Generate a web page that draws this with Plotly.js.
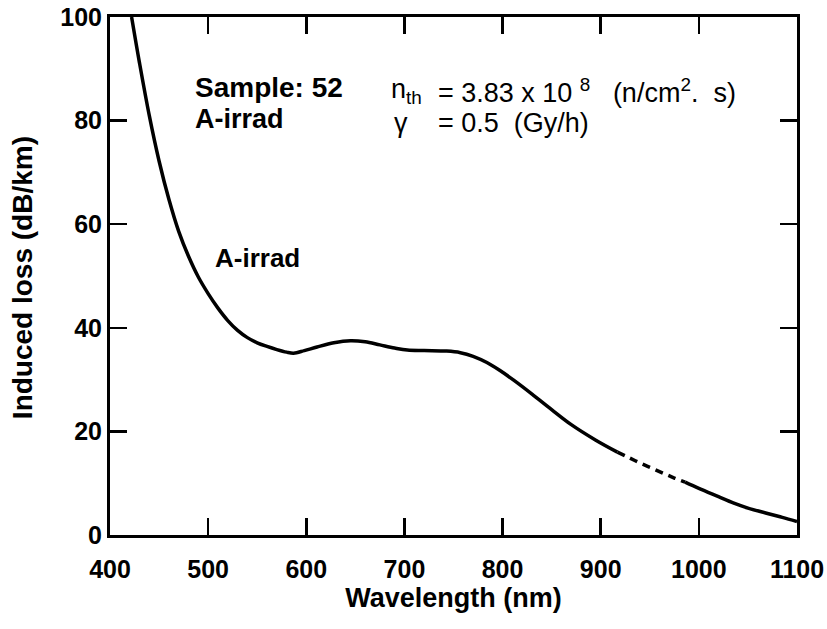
<!DOCTYPE html>
<html>
<head>
<meta charset="utf-8">
<script src="https://cdn.plot.ly/plotly-3.0.1.min.js"></script>
<style>
html,body{margin:0;padding:0;background:#fff;}
#chart{width:827px;height:629px;}
</style>
</head>
<body>
<div id="chart"></div>
<script>
// Solid part of the curve (short wavelengths)
const wlSolidA = [422, 430, 440, 450, 460, 470, 480, 490, 500, 510, 520, 530, 540, 550, 560, 570, 580, 587, 598, 611, 628, 645, 660, 675, 690, 703, 720, 743, 757, 770, 784, 797, 812, 830, 850, 870, 895, 917];
const lossSolidA = [100, 91.2, 81, 72.2, 64.8, 58.6, 53.8, 49.8, 46.6, 43.8, 41.4, 39.5, 38.1, 37.1, 36.4, 35.8, 35.3, 35.1, 35.6, 36.3, 37.1, 37.5, 37.3, 36.7, 36.1, 35.7, 35.6, 35.5, 35.2, 34.5, 33.3, 31.8, 29.8, 27.2, 24.2, 21.3, 18.3, 16.0];
// Dashed (extrapolated) part
const wlDashed = [917, 928, 940, 952, 964, 975, 986];
const lossDashed = [16.0, 15.0, 13.9, 12.9, 11.9, 11.0, 10.2];
// Solid part (long wavelengths)
const wlSolidB = [986, 1000, 1020, 1035, 1050, 1069, 1085, 1100];
const lossSolidB = [10.2, 9.0, 7.4, 6.2, 5.2, 4.2, 3.4, 2.6];

const xTicks = [400, 500, 600, 700, 800, 900, 1000, 1100];
const yTicks = [0, 20, 40, 60, 80, 100];

const FONT = 'Liberation Sans, Arial, Helvetica, sans-serif';
const lineStyle = {color: '#000', width: 3.5, shape: 'spline', smoothing: 1};

const traces = [
  {x: wlSolidA, y: lossSolidA, mode: 'lines', line: lineStyle, hoverinfo: 'skip'},
  {x: wlDashed, y: lossDashed, mode: 'lines', line: Object.assign({}, lineStyle, {dash: '8px,6px'}), hoverinfo: 'skip'},
  {x: wlSolidB, y: lossSolidB, mode: 'lines', line: lineStyle, hoverinfo: 'skip'}
];

function ann(text, x, y, size, bold) {
  return {
    xref: 'paper', yref: 'paper', x: x, y: y, xanchor: 'left', yanchor: 'middle',
    text: bold ? '<b>' + text + '</b>' : text, showarrow: false,
    font: {family: FONT, size: size, color: '#000'}
  };
}

const axisCommon = {
  showline: true, linecolor: '#000', linewidth: 3,
  mirror: 'ticks', ticks: 'inside', ticklen: 17, tickwidth: 2.5, tickcolor: '#000',
  showgrid: false, zeroline: false,
  tickfont: {family: FONT, size: 25, color: '#000', weight: 'bold'}
};

const yTitle = {
  xref: 'paper', yref: 'paper', x: -0.128, y: 0.496, xanchor: 'center', yanchor: 'middle',
  textangle: -90, showarrow: false,
  text: '<b>Induced loss (dB/km)</b>',
  font: {family: FONT, size: 28, color: '#000'}
};

const layout = {
  width: 827, height: 629,
  margin: {l: 110, r: 30, t: 17, b: 94},
  paper_bgcolor: '#fff', plot_bgcolor: '#fff',
  showlegend: false,
  xaxis: Object.assign({}, axisCommon, {
    range: [400, 1100], tickvals: xTicks, ticktext: xTicks.map(String),
    ticklabelstandoff: 10,
    title: {text: '<b>Wavelength (nm)</b>', font: {family: FONT, size: 27, color: '#000'}, standoff: 6}
  }),
  yaxis: Object.assign({}, axisCommon, {
    range: [0, 100], tickvals: yTicks, ticktext: yTicks.map(String)
  }),
  annotations: [
    yTitle,
    ann('Sample: 52', 0.121, 0.863, 28, true),
    ann('A-irrad', 0.121, 0.803, 27, true),
    ann('A-irrad', 0.150, 0.535, 26, true),
    ann('n<sub>th</sub>', 0.406, 0.858, 27, false),
    ann('= 3.83 x 10 <sup>8</sup>   (n/cm<sup>2</sup>.  s)', 0.474, 0.858, 27, false),
    ann('γ', 0.410, 0.795, 27, false),
    ann('= 0.5  (Gy/h)', 0.474, 0.795, 27, false)
  ]
};

Plotly.newPlot('chart', traces, layout, {staticPlot: true, displayModeBar: false});
</script>
</body>
</html>
